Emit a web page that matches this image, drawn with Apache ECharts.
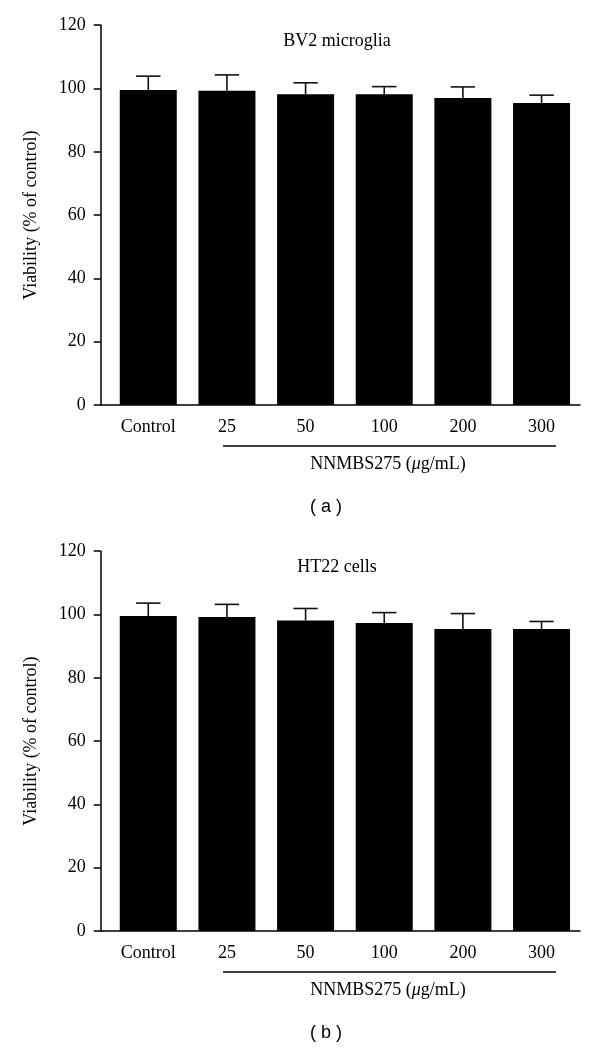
<!DOCTYPE html>
<html>
<head>
<meta charset="utf-8">
<script src="https://cdn.jsdelivr.net/npm/echarts@6/dist/echarts.min.js"></script>
<style>
  html, body { margin: 0; padding: 0; background: #fff; }
  #chart { width: 600px; height: 1051px; }
</style>
</head>
<body>
<div id="chart"></div>
<script>
// ---- data ----
const categories = ['Control', '25', '50', '100', '200', '300'];
const bv2Mean  = [99.5, 99.3, 98.2, 98.2, 97.0, 95.4];
const bv2Upper = [103.9, 104.3, 101.8, 100.6, 100.5, 97.9];
const ht22Mean  = [99.5, 99.2, 98.1, 97.3, 95.4, 95.4];
const ht22Upper = [103.6, 103.2, 101.9, 100.6, 100.3, 97.8];
const yMin = 0, yMax = 120, yStep = 20;
const panelTitles = ['BV2 microglia', 'HT22 cells'];
const panelTags = ['( a )', '( b )'];

// ---- chart ----
const serif = '"Liberation Serif", "DejaVu Serif", serif';
const grids = [
  { left: 100.7, right: 20, top: 25.2, height: 379.8 },
  { left: 100.7, right: 20, top: 551.2, height: 379.8 }
];

function xAxisFor(gi) {
  return {
    gridIndex: gi, type: 'value', min: -0.605, max: 5.489,
    splitLine: { show: false },
    axisTick: { show: false },
    axisLine: { show: true, onZero: false, lineStyle: { color: '#000', width: 1.5 } },
    axisLabel: {
      customValues: categories.map((c, i) => i),
      formatter: v => categories[Math.round(v)] ?? '',
      margin: 13, color: '#000', fontFamily: serif, fontSize: 18
    }
  };
}
function yAxisFor(gi) {
  return {
    gridIndex: gi, type: 'value', min: yMin, max: yMax, interval: yStep,
    name: 'Viability (% of control)', nameLocation: 'middle', nameGap: 60,
    nameTextStyle: { color: '#000', fontFamily: serif, fontSize: 18 },
    splitLine: { show: false },
    axisLine: { show: true, onZero: false, lineStyle: { color: '#000', width: 1.5 } },
    axisTick: { show: true, length: 7, lineStyle: { color: '#000', width: 1.5 } },
    axisLabel: { margin: 15, color: '#000', fontFamily: serif, fontSize: 18 }
  };
}
function barSeries(gi, means) {
  return {
    type: 'bar', xAxisIndex: gi, yAxisIndex: gi,
    data: means.map((v, i) => [i, v]),
    barWidth: 57, itemStyle: { color: '#000' }, z: 2, silent: true
  };
}
function errSeries(gi, means, uppers) {
  return {
    type: 'custom', xAxisIndex: gi, yAxisIndex: gi, z: 3, silent: true,
    data: means.map((v, i) => [i, v, uppers[i]]),
    encode: { x: 0, y: [1, 2] },
    renderItem: function (params, api) {
      const x = api.value(0);
      const p0 = api.coord([x, api.value(1)]);
      const p1 = api.coord([x, api.value(2)]);
      const hw = api.size([1, 0])[0] * 0.155;
      const st = { stroke: '#111', lineWidth: 1.6 };
      return {
        type: 'group',
        children: [
          { type: 'line', shape: { x1: p0[0], y1: p0[1], x2: p1[0], y2: p1[1] }, style: st },
          { type: 'line', shape: { x1: p1[0] - hw, y1: p1[1], x2: p1[0] + hw, y2: p1[1] }, style: st }
        ]
      };
    }
  };
}

const richX = {
  n: { fontFamily: serif, fontSize: 18, fill: '#000', color: '#000' },
  i: { fontFamily: serif, fontSize: 18, fontStyle: 'italic', fill: '#000', color: '#000' }
};
function panelGraphics(dy, pi) {
  return [
    { type: 'text', style: { x: 337, y: 41 + dy, text: panelTitles[pi], fill: '#000', font: '18px ' + serif, textAlign: 'center', textVerticalAlign: 'middle' } },
    { type: 'line', shape: { x1: 223, y1: 446 + dy, x2: 556, y2: 446 + dy }, style: { stroke: '#000', lineWidth: 1.5 } },
    { type: 'text', style: { x: 388, y: 464 + dy, text: '{n|NNMBS275 (}{i|μ}{n|g/mL)}', rich: richX, fill: '#000', font: '18px ' + serif, textAlign: 'center', textVerticalAlign: 'middle' } },
    { type: 'text', style: { x: 326, y: 507 + dy, text: panelTags[pi], fill: '#000', font: '18px "Liberation Sans", Arial, sans-serif', textAlign: 'center', textVerticalAlign: 'middle' } }
  ];
}

const chart = echarts.init(document.getElementById('chart'), null, { renderer: 'canvas' });
chart.setOption({
  animation: false,
  backgroundColor: '#fff',
  grid: grids,
  xAxis: [xAxisFor(0), xAxisFor(1)],
  yAxis: [yAxisFor(0), yAxisFor(1)],
  series: [
    barSeries(0, bv2Mean), errSeries(0, bv2Mean, bv2Upper),
    barSeries(1, ht22Mean), errSeries(1, ht22Mean, ht22Upper)
  ],
  graphic: { elements: panelGraphics(0, 0).concat(panelGraphics(526, 1)) }
});
</script>
</body>
</html>
